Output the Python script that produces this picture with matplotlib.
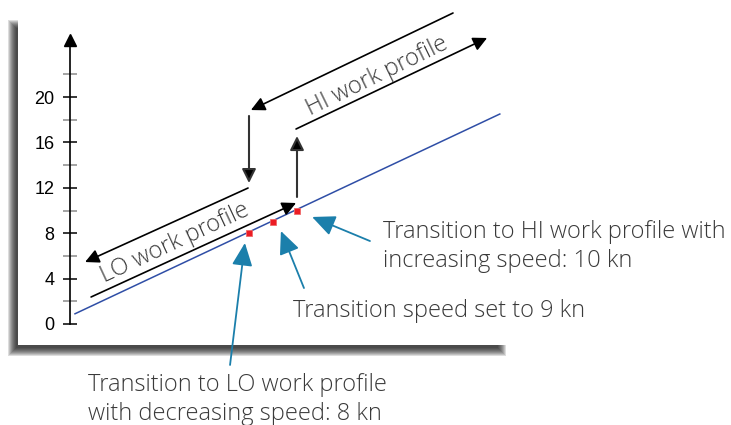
import matplotlib
matplotlib.use('Agg')
import matplotlib.pyplot as plt
from matplotlib.patches import Rectangle

# datos (velocidad en kn)
linea_vel = [0.75, 18.45]
linea_val = [0.9, 18.5]
vel_transicion = [8, 9, 10]
val_transicion = [8, 9, 10]
ticks_mayores = [0, 4, 8, 12, 16, 20]
ticks_menores = [2, 6, 10, 14, 18, 22]

# flechas negras (inicio, punta) en coordenadas de datos
flechas_lo = [((7.96, 11.98), (1.17, 5.46)), ((1.42, 2.38), (9.96, 10.66))]
flechas_hi = [((16.5, 27.4), (8.08, 18.85)), ((9.96, 17.18), (17.92, 25.2))]
flechas_vert = [((8.0, 18.33), (8.0, 12.42)), ((10.0, 11.19), (10.0, 16.56))]

# notas: texto, posicion, inicio y punta de la flecha azul
notas = [
    ('Transition to HI work profile with\nincreasing speed: 10 kn', (13.6, 9.2), (13.04, 7.31), (10.63, 9.43)),
    ('Transition speed set to 9 kn', (9.85, 2.2), (10.29, 3.17), (9.33, 8.19)),
    ('Transition to LO work profile\nwith decreasing speed: 8 kn', (1.3, -4.3), (7.21, -3.61), (7.83, 7.14)),
]

W, H = 731, 425
fig = plt.figure(figsize=(W / 100, H / 100), dpi=100)


def fx(px):
    return px / W


def fy(py):
    return 1 - py / H


# sombra del panel (varios rectangulos para difuminar)
for i in range(9):
    fig.patches.append(Rectangle((fx(8 + i), fy(356 - i)), fx(498 - 2 * i), (336 - 2 * i) / H,
                                 transform=fig.transFigure, color='#111111', alpha=0.14,
                                 lw=0, zorder=-3))
fig.patches.append(Rectangle((fx(18), fy(345)), fx(510), 332 / H,
                             transform=fig.transFigure, color='white', lw=0, zorder=-2))

ax = fig.add_axes([0, 0, 1, 1])
ax.set_facecolor('none')
ax.set_xlim((0 - 57) / 24, (W - 57) / 24)
ax.set_ylim((324 - H) / 11.35, 324 / 11.35)

for s in ['top', 'right', 'bottom']:
    ax.spines[s].set_visible(False)
ax.spines['left'].set_position(('data', 0.54))
ax.spines['left'].set_bounds(0, 24.6)
ax.spines['left'].set_linewidth(1.2)
ax.set_xticks([])
ax.set_yticks(ticks_mayores)
ax.set_yticks(ticks_menores, minor=True)
ax.tick_params(axis='y', which='major', direction='inout', length=10.5, width=1.1,
               pad=6, labelsize=13, labelcolor='black')
ax.tick_params(axis='y', which='minor', direction='inout', length=10.5, width=1.1, color='#8a8a8a')
for lab in ax.get_yticklabels():
    lab.set_family('Liberation Sans')
ax.plot([0.54], [25.0], marker='^', ms=9, color='black', clip_on=False)

ax.plot(linea_vel, linea_val, color='#2f4ea6', lw=1.1, zorder=3)
ax.plot(vel_transicion, val_transicion, ls='none', marker='s', ms=5, color='#ec1c24',
        mec='#f06a6a', mew=0.6, zorder=4)

for ini, fin in flechas_lo + flechas_hi:
    ax.annotate('', xy=fin, xytext=ini,
                arrowprops=dict(arrowstyle='-|>,head_length=0.6,head_width=0.3',
                                color='black', lw=1.2, shrinkA=0, shrinkB=0, mutation_scale=14))
for ini, fin in flechas_vert:
    ax.annotate('', xy=fin, xytext=ini,
                arrowprops=dict(arrowstyle='-|>,head_length=0.6,head_width=0.3',
                                color='#333333', fc='black', lw=1.5, shrinkA=0, shrinkB=0,
                                mutation_scale=14))

fuente = dict(family=['Open Sans', 'DejaVu Sans'], color='#3a3a3a', fontweight='light')
ax.text(4.92, 7.1, 'LO work profile', rotation=25, ha='center', va='center',
        fontsize=17, **fuente)
ax.text(13.35, 21.85, 'HI work profile', rotation=26, ha='center', va='center',
        fontsize=17, **fuente)

for texto, pos, ini, fin in notas:
    ax.text(pos[0], pos[1], texto, ha='left', va='top', fontsize=17, linespacing=1.3,
            clip_on=False, **fuente)
    ax.annotate('', xy=fin, xytext=ini, annotation_clip=False,
                arrowprops=dict(arrowstyle='-|>,head_length=1.0,head_width=0.45',
                                color='#1b7fab', lw=1.3, shrinkA=0, shrinkB=0,
                                mutation_scale=14))

fig.savefig('out.png', dpi=100)
